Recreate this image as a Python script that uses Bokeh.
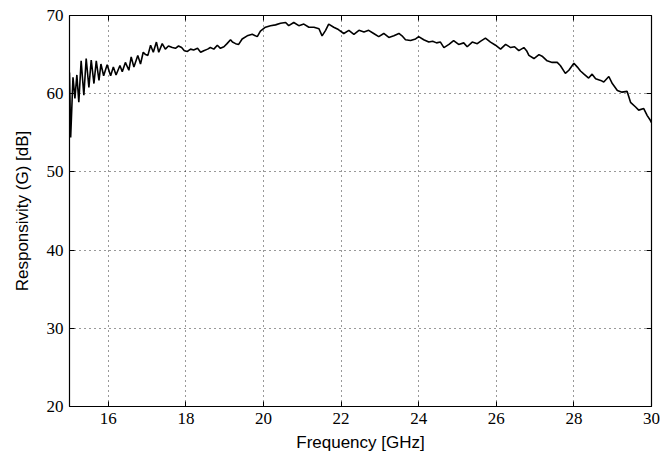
from bokeh.plotting import figure
from bokeh.models import LinearAxis, FixedTicker, Range1d, ColumnDataSource, CustomJSTickFormatter
from bokeh.embed import file_html
from bokeh.resources import INLINE

freq_ghz = [
    15.00, 15.03, 15.09, 15.14, 15.19, 15.24, 15.30, 15.37, 15.43, 15.50,
    15.56, 15.63, 15.69, 15.76, 15.81, 15.88, 15.97, 16.06, 16.13, 16.20,
    16.30, 16.36, 16.44, 16.53, 16.59, 16.66, 16.76, 16.83, 16.90, 16.96,
    17.02, 17.09, 17.16, 17.24, 17.30, 17.39, 17.47, 17.55, 17.65, 17.73,
    17.81, 17.89, 17.96, 18.04, 18.12, 18.20, 18.30, 18.38, 18.46, 18.56,
    18.63, 18.72, 18.81, 18.89, 18.98, 19.06, 19.15, 19.20, 19.28, 19.36,
    19.45, 19.58, 19.71, 19.84, 19.92, 20.05, 20.18, 20.31, 20.44, 20.57,
    20.65, 20.78, 20.91, 21.04, 21.17, 21.30, 21.43, 21.51, 21.60, 21.68,
    21.81, 21.93, 22.07, 22.20, 22.33, 22.46, 22.59, 22.71, 22.84, 22.97,
    23.10, 23.23, 23.36, 23.49, 23.57, 23.66, 23.79, 23.92, 24.00, 24.13,
    24.26, 24.36, 24.46, 24.56, 24.65, 24.78, 24.90, 25.03, 25.16, 25.25,
    25.38, 25.51, 25.59, 25.72, 25.85, 25.98, 26.11, 26.24, 26.37, 26.47,
    26.58, 26.71, 26.78, 26.84, 26.97, 27.10, 27.18, 27.31, 27.44, 27.57,
    27.65, 27.78, 27.87, 28.00, 28.09, 28.17, 28.26, 28.38, 28.47, 28.56,
    28.69, 28.77, 28.90, 28.99, 29.12, 29.24, 29.37, 29.46, 29.59, 29.67,
    29.80, 29.89, 29.97, 30.00,
]
responsivity_db = [
    62.7, 54.4, 62.1, 59.4, 62.4, 58.9, 64.2, 59.8, 64.5, 60.8,
    64.3, 61.3, 64.2, 61.7, 63.8, 62.3, 63.7, 62.3, 63.4, 62.4,
    63.6, 62.8, 64.0, 63.0, 64.7, 63.4, 64.9, 63.8, 65.3, 65.0,
    64.9, 66.2, 65.3, 66.6, 65.3, 66.4, 65.7, 66.1, 65.9, 65.8,
    66.1, 65.9, 65.5, 65.4, 65.7, 65.6, 65.8, 65.3, 65.5, 65.7,
    65.9, 65.7, 66.2, 65.8, 66.0, 66.4, 66.9, 66.6, 66.4, 66.3,
    67.0, 67.4, 67.6, 67.3, 68.0, 68.5, 68.7, 68.8, 69.0, 69.1,
    68.7, 69.1, 68.7, 68.9, 68.5, 68.5, 68.3, 67.4, 68.1, 68.9,
    68.5, 68.2, 67.7, 68.1, 67.6, 68.1, 67.9, 68.1, 67.7, 67.3,
    67.7, 67.2, 67.4, 67.7, 67.4, 66.9, 66.8, 67.0, 67.3, 66.9,
    66.6, 66.7, 66.5, 66.6, 65.9, 66.3, 66.8, 66.3, 66.5, 66.0,
    66.6, 66.4, 66.7, 67.1, 66.6, 66.2, 65.7, 66.3, 65.9, 66.0,
    65.5, 65.9, 65.5, 64.9, 64.5, 65.0, 64.8, 64.2, 64.0, 64.0,
    63.6, 62.6, 63.0, 63.9, 63.4, 62.9, 62.5, 62.0, 62.5, 61.9,
    61.7, 61.5, 62.2, 61.3, 60.4, 60.2, 60.3, 58.9, 58.3, 57.9,
    58.1, 57.2, 56.6, 56.3,
]
x_ticks = [16, 18, 20, 22, 24, 26, 28, 30]
y_ticks = [20, 30, 40, 50, 60, 70]
x_label = "Frequency [GHz]"
y_label = "Responsivity (G) [dB]"

src = ColumnDataSource(data=dict(f=freq_ghz, r=responsivity_db))

p = figure(width=663, height=459, output_backend="svg", toolbar_location=None,
           x_range=Range1d(15, 30), y_range=Range1d(20, 70),
           min_border_left=69, min_border_right=12, min_border_top=15,
           min_border_bottom=53)
p.background_fill_color = "white"
p.border_fill_color = "white"
p.outline_line_color = "black"
p.outline_line_width = 1.2

p.line("f", "r", source=src, line_color="black", line_width=1.6)

label_font = "Liberation Serif"
for ax in (p.xaxis[0], p.yaxis[0]):
    ax.major_tick_in = 5
    ax.major_tick_out = 0
    ax.minor_tick_in = 0
    ax.minor_tick_out = 0
    ax.axis_line_color = None
    ax.major_tick_line_color = "black"
    ax.major_label_text_font = label_font
    ax.major_label_text_font_size = "17px"
    ax.major_label_text_color = "black"
    ax.axis_label_text_font = "Liberation Sans"
    ax.axis_label_text_font_size = "17px"
    ax.axis_label_text_font_style = "normal"
    ax.axis_label_text_color = "black"

p.xaxis[0].ticker = FixedTicker(ticks=x_ticks)
p.yaxis[0].ticker = FixedTicker(ticks=y_ticks)
p.xaxis[0].axis_label = x_label
p.yaxis[0].axis_label = y_label
p.xaxis[0].major_label_standoff = 6
p.yaxis[0].major_label_standoff = 6
p.xaxis[0].axis_label_standoff = 6
p.yaxis[0].axis_label_standoff = 12

blank = CustomJSTickFormatter(code="return ''")
for loc, tick in (("above", x_ticks), ("right", y_ticks)):
    ax = LinearAxis(ticker=FixedTicker(ticks=tick), formatter=blank)
    ax.major_tick_in = 5
    ax.major_tick_out = 0
    ax.minor_tick_in = 0
    ax.minor_tick_out = 0
    ax.axis_line_color = None
    ax.major_label_standoff = 0
    p.add_layout(ax, loc)

p.xgrid.ticker = FixedTicker(ticks=x_ticks)
p.ygrid.ticker = FixedTicker(ticks=y_ticks)
for g in (p.xgrid[0], p.ygrid[0]):
    g.grid_line_color = "black"
    g.grid_line_alpha = 0.8
    g.grid_line_width = 1
    g.grid_line_dash = "1 4"

open("out.html", "w").write(file_html(p, INLINE))
